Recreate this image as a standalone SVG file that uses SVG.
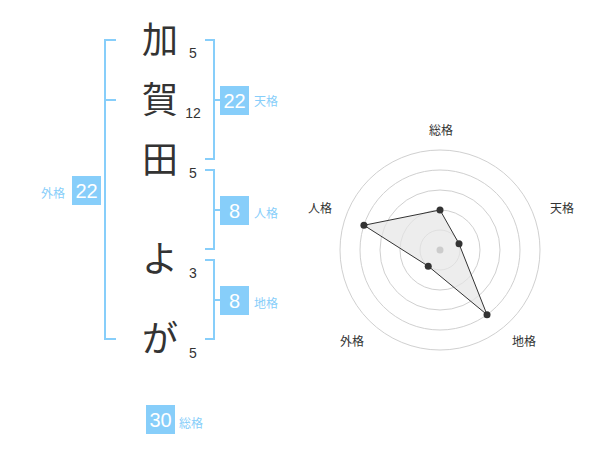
<svg xmlns="http://www.w3.org/2000/svg" width="600" height="470" viewBox="0 0 600 470">
<style>
.ch{font-family:"Noto Sans CJK JP","Noto Sans",sans-serif;font-size:36px;fill:#333;text-anchor:middle}
.num{font-family:"Liberation Sans",Arial,sans-serif;font-size:14px;fill:#333;text-anchor:middle}
.br{fill:none;stroke:#87cefa;stroke-width:2}
.box{fill:#87cefa}
.bn{font-family:"Liberation Sans",Arial,sans-serif;font-size:20px;fill:#fff;text-anchor:middle}
.lb{font-family:"Noto Sans CJK JP",sans-serif;font-size:12px;fill:#87cefa}
.ring{fill:none;stroke:#d0d0d0;stroke-width:1}
.rl{font-family:"Noto Sans CJK JP",sans-serif;font-size:12px;fill:#333;text-anchor:middle}
.dot{fill:#333}
</style>
<rect width="600" height="470" fill="#fff"/>
<g id="chars">
<text class="ch" x="160" y="53">加</text>
<text class="ch" x="160" y="113">賀</text>
<text class="ch" x="160" y="173">田</text>
<text class="ch" x="160" y="272">よ</text>
<text class="ch" x="160" y="352">が</text>
</g>
<g id="strokes">
<text class="num" x="193" y="58">5</text>
<text class="num" x="193" y="118">12</text>
<text class="num" x="193" y="178">5</text>
<text class="num" x="193" y="278">3</text>
<text class="num" x="193" y="358">5</text>
</g>
<g id="connectors">
<path class="br" d="M116,40 H105 V339 H116 M105,100 H116"/>
<path class="br" d="M205,40 H214 V159 H205 M214,100 H222"/>
<path class="br" d="M205,170 H214 V249 H205 M214,210 H222"/>
<path class="br" d="M205,260 H214 V339 H205 M214,300 H222"/>
</g>
<g id="tenkaku">
<rect class="box" x="220" y="86" width="29" height="29"/>
<text class="bn" x="234.5" y="107.5">22</text>
<text class="lb" x="254" y="106">天格</text>
</g>
<g id="jinkaku">
<rect class="box" x="220" y="196" width="29" height="29"/>
<text class="bn" x="234.5" y="217.5">8</text>
<text class="lb" x="254" y="218">人格</text>
</g>
<g id="chikaku">
<rect class="box" x="220" y="286" width="29" height="29"/>
<text class="bn" x="234.5" y="307.5">8</text>
<text class="lb" x="254" y="308">地格</text>
</g>
<g id="gaikaku">
<rect class="box" x="72" y="176" width="29" height="29"/>
<text class="bn" x="86.5" y="197.5">22</text>
<text class="lb" x="41" y="198">外格</text>
</g>
<g id="soukaku">
<rect class="box" x="146" y="405" width="29" height="29"/>
<text class="bn" x="160.5" y="426.5">30</text>
<text class="lb" x="179" y="428">総格</text>
</g>
<g id="radar">
<circle class="ring" cx="440" cy="250" r="20"/>
<circle class="ring" cx="440" cy="250" r="40"/>
<circle class="ring" cx="440" cy="250" r="60"/>
<circle class="ring" cx="440" cy="250" r="80"/>
<circle class="ring" cx="440" cy="250" r="100"/>
<polygon points="440,210 459.02,243.82 487.02,314.72 428.24,266.18 363.92,225.28" fill="#e6e6e6" fill-opacity="0.7" stroke="#333" stroke-width="1"/>
<circle cx="440" cy="250" r="3.5" fill="#ccc"/>
<circle class="dot" cx="440" cy="210" r="3.5"/>
<circle class="dot" cx="459.02" cy="243.82" r="3.5"/>
<circle class="dot" cx="487.02" cy="314.72" r="3.5"/>
<circle class="dot" cx="428.24" cy="266.18" r="3.5"/>
<circle class="dot" cx="363.92" cy="225.28" r="3.5"/>
<text class="rl" x="441" y="135">総格</text>
<text class="rl" x="562" y="213">天格</text>
<text class="rl" x="320" y="213">人格</text>
<text class="rl" x="352" y="346">外格</text>
<text class="rl" x="524" y="346">地格</text>
</g>
</svg>
